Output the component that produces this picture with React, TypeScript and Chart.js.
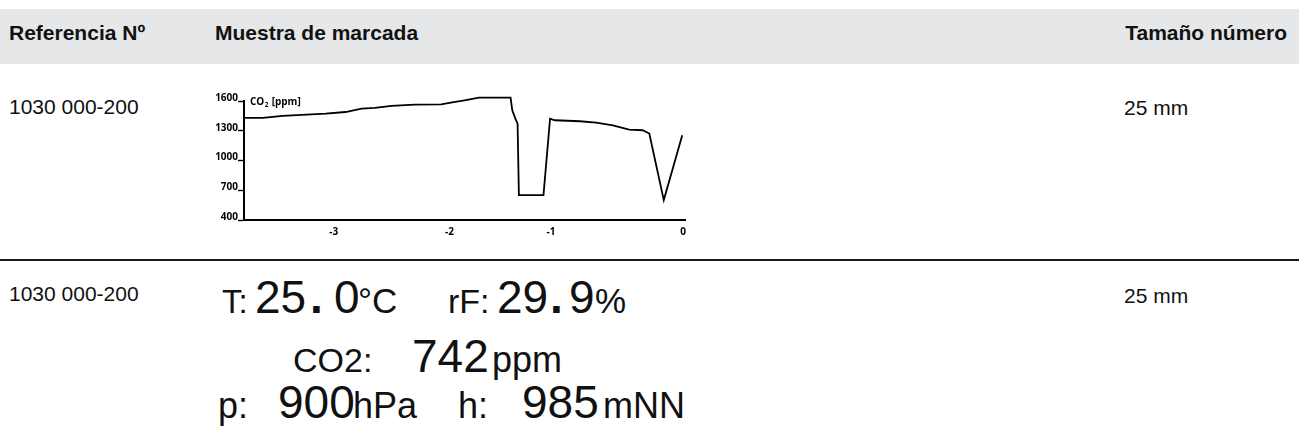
import React, { useEffect, useRef } from 'react';
import { Chart, registerables } from 'chart.js';

Chart.register(...registerables);

// ---- chart data ----
const timePos = [0, 4.3, 8.8, 18.6, 23.1, 26.8, 29.8, 33.6, 38.9, 44.9, 47.1, 50.2, 53.5, 60.7, 61.1, 61.8, 62.3, 62.6, 68.2, 69.7, 70.8, 76.5, 80.2, 84.0, 87.7, 90.8, 92.3, 95.6, 99.8];
const co2Values = [1429, 1429, 1449, 1473, 1489, 1523, 1530, 1550, 1563, 1566, 1583, 1607, 1634, 1634, 1506, 1422, 1372, 651, 651, 1422, 1406, 1396, 1382, 1355, 1312, 1305, 1272, 601, 1255];
const xTickPos = [20.45, 46.8, 69.9, 100];
const xTickLabels = ['-3', '-2', '-1', '0'];
const yTickValues = [400, 700, 1000, 1300, 1600];

// ---- table text ----
const headers = ['Referencia Nº', 'Muestra de marcada', 'Tamaño número'];
const refNumbers = ['1030 000-200', '1030 000-200'];
const sizes = ['25 mm', '25 mm'];

const FONT = '"Liberation Sans", Arial, sans-serif';
const CHART_FONT = '"Open Sans", sans-serif';

function CO2Chart() {
  const ref = useRef<HTMLCanvasElement | null>(null);
  useEffect(() => {
    if (!ref.current) return;
    const titlePlugin = {
      id: 'co2title',
      afterDraw(chart: any) {
        const { ctx, chartArea } = chart;
        ctx.save();
        ctx.fillStyle = '#000';
        ctx.textBaseline = 'alphabetic';
        const x = chartArea.left + 6;
        const y = chartArea.top + 4;
        ctx.font = `bold 10px ${CHART_FONT}`;
        ctx.fillText('CO', x, y);
        const w1 = ctx.measureText('CO').width;
        ctx.font = `bold 6.5px ${CHART_FONT}`;
        ctx.fillText('2', x + w1 + 0.5, y + 2);
        const w2 = ctx.measureText('2').width;
        ctx.font = `bold 10px ${CHART_FONT}`;
        ctx.fillText(' [ppm]', x + w1 + w2 + 1, y);
        ctx.restore();
      },
    };
    const chart = new Chart(ref.current, {
      type: 'line',
      data: {
        datasets: [
          {
            data: timePos.map((t, i) => ({ x: t, y: co2Values[i] })),
            borderColor: '#000',
            borderWidth: 1.8,
            pointRadius: 0,
            tension: 0,
            fill: false,
            clip: false as any,
          },
        ],
      },
      options: {
        animation: false,
        responsive: false,
        maintainAspectRatio: false,
        devicePixelRatio: 1,
        layout: { padding: { top: 15, right: 4, left: 0, bottom: 0 } },
        plugins: { legend: { display: false }, tooltip: { enabled: false } },
        scales: {
          x: {
            type: 'linear',
            min: 0,
            max: 100.5,
            afterBuildTicks: (s: any) => {
              s.ticks = xTickPos.map((v) => ({ value: v }));
            },
            afterFit: (s: any) => {
              s.height = 20;
            },
            ticks: {
              autoSkip: false,
              maxRotation: 0,
              color: '#000',
              padding: 6,
              font: { family: CHART_FONT, size: 10, weight: 'bold' },
              callback: (_v: any, i: number) => xTickLabels[i],
            },
            grid: { drawOnChartArea: false, drawTicks: false },
            border: { color: '#000', width: 2 },
          },
          y: {
            min: 400,
            max: 1600,
            afterBuildTicks: (s: any) => {
              s.ticks = yTickValues.map((v) => ({ value: v }));
            },
            afterFit: (s: any) => {
              s.width = 40;
            },
            ticks: {
              color: '#000',
              padding: 0,
              labelOffset: -3,
              font: { family: CHART_FONT, size: 10, weight: 'bold' },
              callback: (v: any) => String(v),
            },
            grid: { drawOnChartArea: false, tickLength: 6, color: '#000', tickWidth: 1.4 },
            border: { color: '#000', width: 2 },
          },
        },
      } as any,
      plugins: [titlePlugin],
    });
    return () => chart.destroy();
  }, []);
  return (
    <canvas
      ref={ref}
      width={488}
      height={154}
      style={{ position: 'absolute', left: 204, top: 86, width: 488, height: 154 }}
    />
  );
}

type Piece = { t: string; x: number; size: number; bold?: boolean };

function Txt({ t, x, base, size, bold, right }: { t: string; x: number; base: number; size: number; bold?: boolean; right?: boolean }) {
  const style: React.CSSProperties = {
    position: 'absolute',
    top: base - 0.8465 * size,
    fontFamily: FONT,
    fontSize: size,
    lineHeight: `${size}px`,
    fontWeight: bold ? 700 : 400,
    whiteSpace: 'pre',
    color: '#111',
  };
  if (right) style.right = x;
  else style.left = x;
  return <div style={style}>{t}</div>;
}

const displayLines: { base: number; pieces: Piece[] }[] = [
  {
    base: 313,
    pieces: [
      { t: 'T:', x: 222, size: 33 },
      { t: '25', x: 255, size: 46 },
      { t: '.', x: 310, size: 46, bold: true },
      { t: '0', x: 334, size: 46 },
      { t: '°C', x: 358, size: 35 },
      { t: 'rF:', x: 448, size: 34 },
      { t: '29', x: 497, size: 46 },
      { t: '.', x: 550, size: 46, bold: true },
      { t: '9', x: 569, size: 46 },
      { t: '%', x: 595, size: 35 },
    ],
  },
  {
    base: 372,
    pieces: [
      { t: 'CO2:', x: 293, size: 34 },
      { t: '742', x: 412, size: 46 },
      { t: 'ppm', x: 492, size: 36 },
    ],
  },
  {
    base: 418,
    pieces: [
      { t: 'p:', x: 218, size: 36 },
      { t: '900', x: 278, size: 46 },
      { t: 'hPa', x: 353, size: 36 },
      { t: 'h:', x: 458, size: 36 },
      { t: '985', x: 522, size: 46 },
      { t: 'mNN', x: 603, size: 36 },
    ],
  },
];

export default function App() {
  return (
    <div style={{ position: 'absolute', left: 0, top: 0, width: 1299, height: 441, background: '#fff', overflow: 'hidden' }}>
      {/* header band */}
      <div style={{ position: 'absolute', left: 0, top: 9, width: 1299, height: 55, background: '#e6e7e8' }} />
      <Txt t={headers[0]} x={9} base={40} size={21} bold />
      <Txt t={headers[1]} x={215} base={40} size={21} bold />
      <Txt t={headers[2]} x={12} base={40} size={21} bold right />

      {/* row 1 */}
      <Txt t={refNumbers[0]} x={9} base={114} size={21} />
      <Txt t={sizes[0]} x={1124} base={115} size={21} />
      <CO2Chart />

      {/* separator */}
      <div style={{ position: 'absolute', left: 0, top: 259, width: 1299, height: 2, background: '#1a1a1a' }} />

      {/* row 2 */}
      <Txt t={refNumbers[1]} x={9} base={301} size={21} />
      <Txt t={sizes[1]} x={1124} base={303} size={21} />
      {displayLines.map((ln, li) =>
        ln.pieces.map((p, pi) => <Txt key={`${li}-${pi}`} t={p.t} x={p.x} base={ln.base} size={p.size} bold={p.bold} />)
      )}
    </div>
  );
}
